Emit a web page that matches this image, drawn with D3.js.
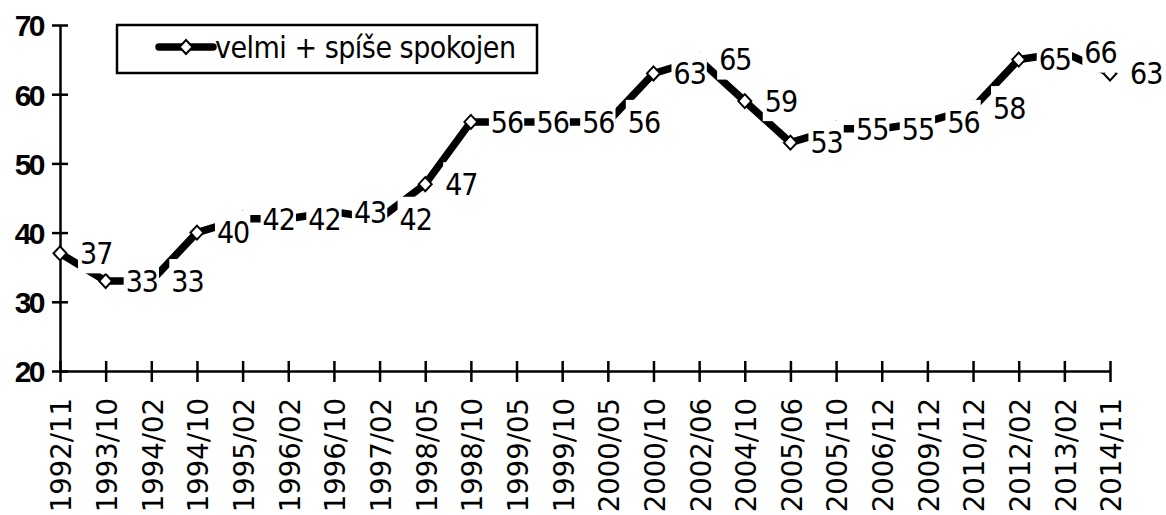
<!DOCTYPE html>
<html>
<head>
<meta charset="utf-8">
<script src="https://cdn.jsdelivr.net/npm/d3@7"></script>
<style>
  body { margin: 0; background: #fff; }
  svg { display: block; }
</style>
</head>
<body>
<div id="chart"></div>
<script>
//Data
var categories = ["1992/11", "1993/10", "1994/02", "1994/10", "1995/02", "1996/02", "1996/10", "1997/02",
    "1998/05", "1998/10", "1999/05", "1999/10", "2000/05", "2000/10", "2002/06", "2004/10",
    "2005/06", "2005/10", "2006/12", "2009/12", "2010/12", "2012/02", "2013/02", "2014/11"];
var values = [37, 33, 33, 40, 42, 42, 43, 42, 47, 56, 56, 56, 56, 63, 65, 59, 53, 55, 55, 56, 58, 65, 66, 63];
var yTicks = [20, 30, 40, 50, 60, 70];
var seriesName = "velmi + spíše spokojen";

//Set up chart
var svgWidth = 1166;
var svgHeight = 515;

var svg = d3.select("#chart").append("svg")
    .attr("width", svgWidth)
    .attr("height", svgHeight);

//Scales
var xScale = d3.scalePoint()
    .domain(categories)
    .range([60, 1110]);

var yScale = d3.scaleLinear()
    .domain([20, 70])
    .range([371, 25]);

var labelFont = "'DejaVu Sans Condensed', 'DejaVu Sans', sans-serif";

//Y axis
var yAxis = svg.append("g")
    .attr("transform", "translate(60,0)")
    .call(d3.axisLeft(yScale).tickValues(yTicks).tickSize(8).tickSizeOuter(0));

yAxis.select(".domain").attr("stroke", "#000").attr("stroke-width", 2.5);
yAxis.selectAll(".tick line")
    .attr("x1", -8).attr("x2", 8)
    .attr("stroke", "#000").attr("stroke-width", 2.5);
yAxis.selectAll(".tick text")
    .attr("x", -17)
    .attr("dy", "0.36em")
    .attr("font-family", "'Liberation Sans', Arial, sans-serif")
    .attr("font-weight", "bold")
    .attr("font-size", "30px")
    .attr("letter-spacing", "-2.5px")
    .attr("fill", "#000");

//X axis
var xAxis = svg.append("g")
    .attr("transform", "translate(0,371)")
    .call(d3.axisBottom(xScale).tickSize(11).tickSizeOuter(0));

xAxis.select(".domain").attr("stroke", "#000").attr("stroke-width", 2.5);
xAxis.selectAll(".tick line")
    .attr("y1", -10).attr("y2", 11)
    .attr("stroke", "#000").attr("stroke-width", 2.5);
xAxis.selectAll(".tick text")
    .attr("transform", "rotate(-90)")
    .attr("text-anchor", "end")
    .attr("x", -27)
    .attr("y", 1)
    .attr("dy", "0.36em")
    .attr("font-family", "'DejaVu Sans', sans-serif")
    .attr("font-size", "27.5px")
    .attr("fill", "#000");

//Line
var line = d3.line()
    .x((d, i) => xScale(categories[i]))
    .y(d => yScale(d));

svg.append("path")
    .datum(values)
    .attr("fill", "none")
    .attr("stroke", "#000")
    .attr("stroke-width", 7.5)
    .attr("d", line);

//Diamond markers
var diamond = "M0,-7L6.5,0L0,7L-6.5,0Z";

svg.selectAll(".marker")
    .data(values)
    .enter()
    .append("path")
    .classed("marker", true)
    .attr("transform", (d, i) => `translate(${xScale(categories[i])},${yScale(d)})`)
    .attr("d", diamond)
    .attr("fill", "#fff")
    .attr("stroke", "#000")
    .attr("stroke-width", 2);

//Data labels with white boxes that hide what lies behind them
values.forEach(function(d, i) {
    var cy = yScale(d);
    var g = svg.append("g");
    var box = g.append("rect").attr("fill", "#fff");
    var t = g.append("text")
        .attr("x", xScale(categories[i]) + 20)
        .attr("y", cy)
        .attr("dy", "0.36em")
        .attr("font-family", labelFont)
        .attr("font-size", "30px")
        .attr("letter-spacing", "-1px")
        .attr("fill", "#000")
        .text(d);
    var bb = t.node().getBBox();
    box.attr("x", bb.x - 2)
        .attr("y", cy - 22)
        .attr("width", bb.width + 3)
        .attr("height", 42);
});

//Legend
var legend = svg.append("g");

legend.append("rect")
    .attr("x", 117)
    .attr("y", 25)
    .attr("width", 420)
    .attr("height", 48)
    .attr("fill", "#fff")
    .attr("stroke", "#000")
    .attr("stroke-width", 2.5);

legend.append("line")
    .attr("x1", 159).attr("x2", 213)
    .attr("y1", 47).attr("y2", 47)
    .attr("stroke", "#000")
    .attr("stroke-width", 7.5)
    .attr("stroke-linecap", "round");

legend.append("path")
    .attr("transform", "translate(186,47)")
    .attr("d", diamond)
    .attr("fill", "#fff")
    .attr("stroke", "#000")
    .attr("stroke-width", 2);

legend.append("text")
    .attr("x", 215)
    .attr("y", 47)
    .attr("dy", "0.36em")
    .attr("font-family", labelFont)
    .attr("font-size", "30px")
    .attr("letter-spacing", "-0.5px")
    .attr("fill", "#000")
    .text(seriesName);
</script>
</body>
</html>
